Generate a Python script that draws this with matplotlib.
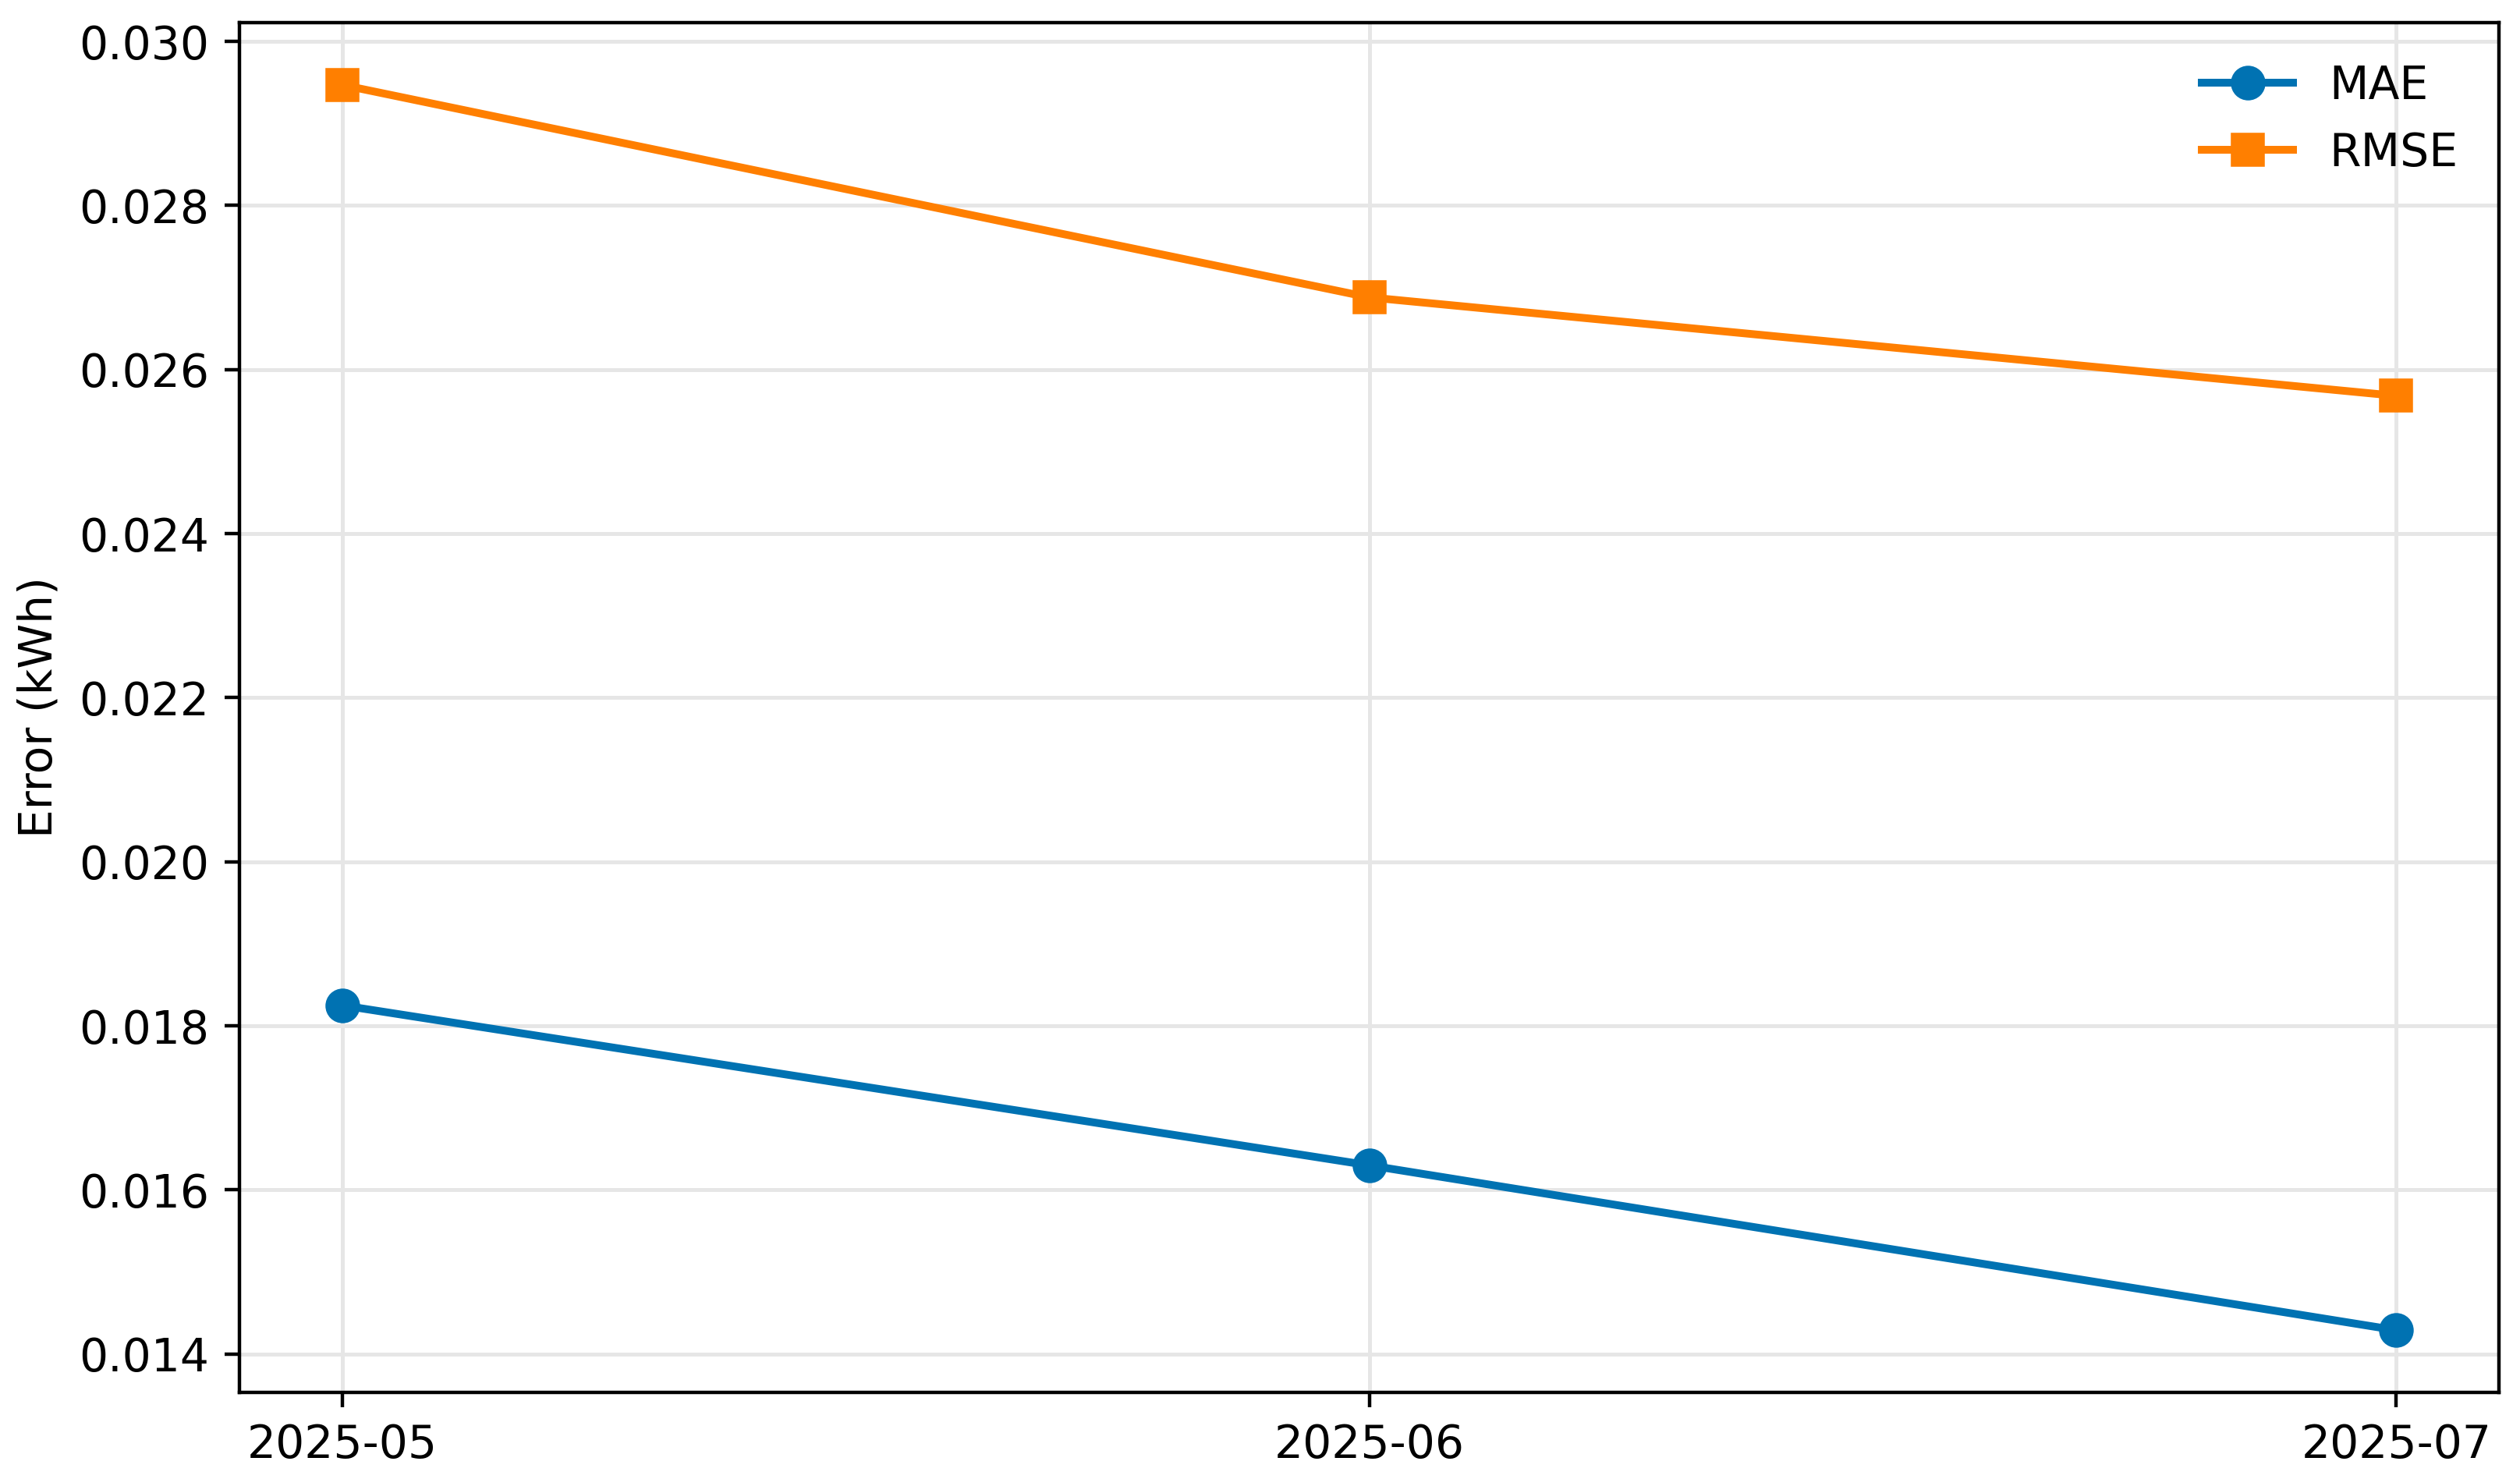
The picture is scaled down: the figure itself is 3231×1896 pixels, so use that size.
import numpy as np
import matplotlib.pyplot as plt

# monthly error metrics
months = ['2025-05', '2025-06', '2025-07']
mae = [0.01825, 0.01630, 0.01429]
rmse = [0.02947, 0.02688, 0.02568]

plt.rcParams['font.size'] = 10.5

fig, ax = plt.subplots(figsize=(3231/400, 1896/400), dpi=400)
x = np.arange(len(months))
ax.plot(x, mae, '-o', color='#0072B2', lw=1.8, ms=7, label='MAE')
ax.plot(x, rmse, '-s', color='#FF7F00', lw=1.8, ms=7, label='RMSE')

ax.set_xticks(x)
ax.set_xticklabels(months)
ax.set_ylabel('Error (kWh)')
ax.yaxis.set_major_formatter(plt.FormatStrFormatter('%.3f'))
ax.grid(True, color='#e6e6e6', lw=0.9)
ax.legend(frameon=False, loc='upper right')

fig.subplots_adjust(left=0.095, right=0.9917, top=0.9847, bottom=0.0585)
fig.savefig('out.png', dpi=400)
